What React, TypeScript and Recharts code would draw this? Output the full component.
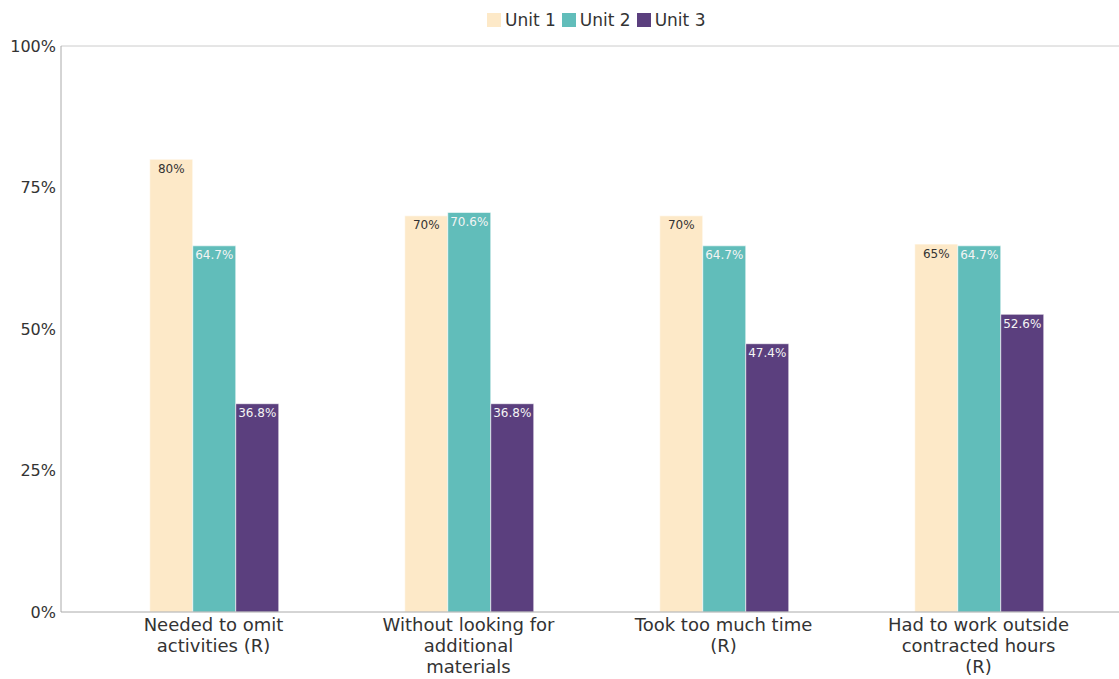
import React from 'react';
import { BarChart, Bar, XAxis, YAxis, LabelList, ReferenceLine } from 'recharts';

const CATEGORIES = [
  'Needed to omit activities (R)',
  'Without looking for additional materials',
  'Took too much time (R)',
  'Had to work outside contracted hours (R)',
];
const UNIT_1 = [80, 70, 70, 65];
const UNIT_2 = [64.7, 70.6, 64.7, 64.7];
const UNIT_3 = [36.8, 36.8, 47.4, 52.6];
const SERIES_NAMES = ['Unit 1', 'Unit 2', 'Unit 3'];
const Y_TICKS = [0, 25, 50, 75, 100];

const COLORS = ['#fde9c8', '#61bdba', '#5b3f7e'];
const LABEL_COLORS = ['#333333', '#f4f4f4', '#f4f4f4'];
const FONT = '"DejaVu Sans", sans-serif';

const data = CATEGORIES.map((name, i) => ({
  name,
  u1: UNIT_1[i],
  u2: UNIT_2[i],
  u3: UNIT_3[i],
}));

// break long category names into lines of at most maxChars
const wrap = (text: string, maxChars = 19) => {
  const lines: string[] = [];
  let cur = '';
  text.split(' ').forEach(w => {
    if (cur && (cur + ' ' + w).length > maxChars) {
      lines.push(cur);
      cur = w;
    } else {
      cur = cur ? cur + ' ' + w : w;
    }
  });
  if (cur) lines.push(cur);
  return lines;
};

const CategoryTick = ({ x, y, payload }: any) => (
  <g>
    {wrap(payload.value).map((line, i) => (
      <text
        key={i}
        x={x}
        y={y + 19 + i * 21}
        textAnchor="middle"
        fontFamily={FONT}
        fontSize={18}
        fill="#333"
      >
        {line}
      </text>
    ))}
  </g>
);

const LegendBox = () => (
  <div
    style={{
      position: 'absolute',
      top: 10,
      left: 487,
      display: 'flex',
      alignItems: 'center',
      fontFamily: FONT,
      fontSize: 17,
      color: '#333',
    }}
  >
    {SERIES_NAMES.map((name, i) => (
      <div key={name} style={{ display: 'flex', alignItems: 'center', marginRight: 6 }}>
        <div style={{ width: 14, height: 14, background: COLORS[i], marginRight: 4 }} />
        <span>{name}</span>
      </div>
    ))}
  </div>
);

const keys = ['u1', 'u2', 'u3'];

export default function App() {
  return (
    <div style={{ position: 'absolute', left: 0, top: 0, width: 1119, height: 679, background: '#fff' }}>
      <BarChart
        width={1119}
        height={679}
        data={data}
        margin={{ top: 46, right: 0, bottom: 0, left: 0 }}
        barCategoryGap="25%"
        barGap={0}
      >
        <XAxis
          dataKey="name"
          height={67}
          interval={0}
          padding={{ left: 25, right: 13 }}
          axisLine={{ stroke: '#aaaaaa' }}
          tickLine={false}
          tickSize={0}
          tickMargin={0}
          tick={<CategoryTick />}
        />
        <YAxis
          width={61}
          domain={[0, 100]}
          ticks={Y_TICKS}
          tickFormatter={(v: number) => `${v}%`}
          axisLine={{ stroke: '#aaaaaa' }}
          tickLine={false}
          tickSize={0}
          tickMargin={5}
          tick={{ fontFamily: FONT, fontSize: 16, fill: '#333' }}
        />
        <ReferenceLine y={100} stroke="#cccccc" />
        {keys.map((k, i) => (
          <Bar
            key={k}
            dataKey={k}
            name={SERIES_NAMES[i]}
            fill={COLORS[i]}
            stroke="rgba(255,255,255,0.6)"
            strokeWidth={1}
            isAnimationActive={false}
          >
            <LabelList
              dataKey={k}
              position="insideTop"
              offset={5}
              formatter={(v: any) => `${v}%`}
              style={{ fontFamily: FONT, fontSize: 12, fill: LABEL_COLORS[i] }}
            />
          </Bar>
        ))}
      </BarChart>
      <LegendBox />
    </div>
  );
}
